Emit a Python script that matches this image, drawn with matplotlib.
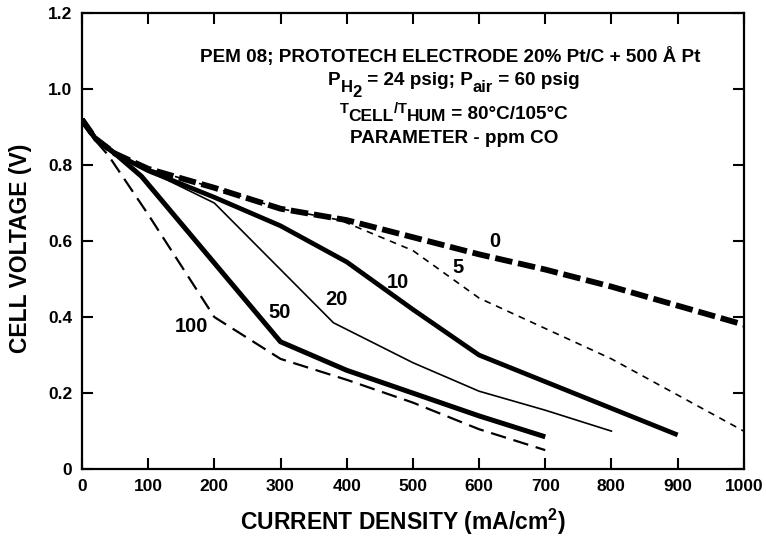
import matplotlib
matplotlib.use('Agg')
import matplotlib.pyplot as plt
from matplotlib.transforms import offset_copy

plt.rcParams['font.family'] = ['Liberation Sans', 'DejaVu Sans']
plt.rcParams['font.weight'] = 'bold'
plt.rcParams['axes.labelweight'] = 'bold'
plt.rcParams['mathtext.fontset'] = 'custom'
plt.rcParams['mathtext.rm'] = 'Liberation Sans:bold'
plt.rcParams['mathtext.bf'] = 'Liberation Sans:bold'

# polarization curves, one per CO level (ppm)
i_0 = [0, 20, 50, 100, 200, 300, 400, 500, 600, 700, 800, 900, 1000]
v_0 = [0.92, 0.87, 0.83, 0.79, 0.74, 0.685, 0.655, 0.61, 0.565, 0.525, 0.48, 0.43, 0.38]

i_5 = [0, 20, 50, 100, 200, 300, 390, 500, 600, 700, 800, 900, 1000]
v_5 = [0.92, 0.87, 0.83, 0.79, 0.74, 0.685, 0.655, 0.575, 0.45, 0.37, 0.29, 0.195, 0.10]

i_10 = [0, 20, 50, 100, 200, 300, 400, 500, 600, 700, 800, 900]
v_10 = [0.92, 0.87, 0.83, 0.785, 0.715, 0.64, 0.545, 0.42, 0.30, 0.23, 0.16, 0.09]

i_20 = [0, 20, 50, 100, 200, 380, 500, 600, 700, 800]
v_20 = [0.92, 0.87, 0.83, 0.785, 0.70, 0.385, 0.28, 0.205, 0.155, 0.10]

i_50 = [0, 20, 50, 90, 300, 400, 500, 600, 700]
v_50 = [0.92, 0.87, 0.83, 0.77, 0.335, 0.26, 0.20, 0.14, 0.085]

i_100 = [0, 20, 40, 100, 200, 300, 400, 500, 600, 700]
v_100 = [0.91, 0.865, 0.825, 0.67, 0.40, 0.29, 0.235, 0.175, 0.105, 0.05]

curve_labels = ['0', '5', '10', '20', '50', '100']
label_x = [624, 568, 477, 385, 299, 166]
label_y = [0.60, 0.53, 0.49, 0.445, 0.413, 0.374]


def rich_line(ax, x, y, parts, fs):
    # parts: (string, size factor, baseline shift in units of fs), centred on x
    fig = ax.figure
    r = fig.canvas.get_renderer()
    arts = []
    total = 0
    for s, sc, dy in parts:
        t = ax.text(x, y, s, fontsize=fs * sc, ha='left', va='baseline')
        w = t.get_window_extent(r).width * 72 / fig.dpi
        arts.append((t, dy, w))
        total += w
    cur = -total / 2
    for t, dy, w in arts:
        t.set_transform(offset_copy(ax.transData, fig=fig, x=cur, y=dy * fs, units='points'))
        cur += w


fig = plt.figure(figsize=(7.66, 5.38), dpi=100)
ax = fig.add_axes([0.107, 0.128, 0.864, 0.848])

ax.plot(i_0, v_0, color='black', lw=4.2, dashes=(3.0, 1.0))
ax.plot(i_5, v_5, color='black', lw=1.2, dashes=(4, 3.5))
ax.plot(i_10, v_10, color='black', lw=3.4, solid_capstyle='butt')
ax.plot(i_20, v_20, color='black', lw=1.2)
ax.plot(i_50, v_50, color='black', lw=3.6, solid_capstyle='butt')
ax.plot(i_100, v_100, color='black', lw=1.6, dashes=(7, 3.5))

for txt, x, y in zip(curve_labels, label_x, label_y):
    ax.text(x, y, txt, fontsize=14.5, ha='center', va='center')

ax.set_xlim(0, 1000)
ax.set_ylim(0, 1.2)

# conditions block
tx = 562
fs = 13.6
ax.text(557, 1.071, 'PEM 08; PROTOTECH ELECTRODE 20% Pt/C + 500 Å Pt',
        fontsize=fs, ha='center', va='baseline')
rich_line(ax, tx, 1.01, [('P', 1, 0), ('H', 0.88, -0.37), ('2', 0.88, -0.62),
                         (' = 24 psig; P', 1, 0), ('air', 0.88, -0.37),
                         (' = 60 psig', 1, 0)], fs)
rich_line(ax, tx, 0.922, [('T', 0.78, 0.3), ('CELL', 0.92, -0.14), ('/', 0.78, 0.3),
                          ('T', 0.78, 0.3), ('HUM', 0.92, -0.14),
                          (' = 80°C/105°C', 1, 0)], fs)
ax.text(tx, 0.857, 'PARAMETER - ppm CO', fontsize=fs, ha='center', va='baseline')

ax.set_xticks(range(0, 1001, 100))
ax.set_yticks([0, 0.2, 0.4, 0.6, 0.8, 1.0, 1.2])
ax.set_yticklabels(['0', '0.2', '0.4', '0.6', '0.8', '1.0', '1.2'])
ax.tick_params(direction='in', length=8, width=1.5, top=True, right=True,
               labelsize=12.5, pad=7)
for s in ax.spines.values():
    s.set_linewidth(1.6)

ax.set_xlabel(r'CURRENT DENSITY (mA/cm$^{\mathrm{2}}$)', fontsize=16.5)
ax.set_ylabel('CELL VOLTAGE (V)', fontsize=16.5)
ax.xaxis.set_label_coords(0.485, -0.083)
ax.yaxis.set_label_coords(-0.076, 0.485)

fig.savefig('out.png', dpi=100)
